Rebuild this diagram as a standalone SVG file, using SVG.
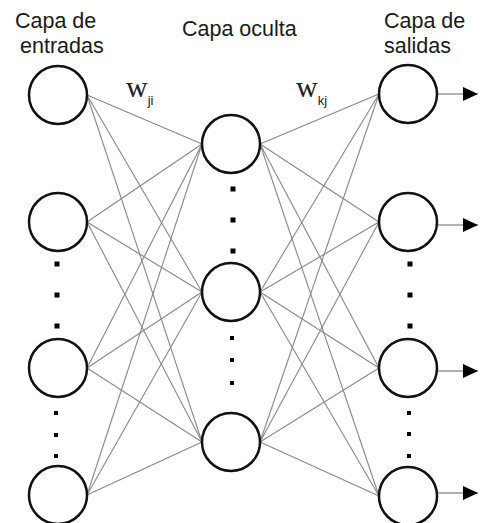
<svg xmlns="http://www.w3.org/2000/svg" width="480" height="523" viewBox="0 0 480 523">
  <defs>
    <style>
      .node { fill: #ffffff; stroke: #111111; stroke-width: 2.5; }
      .link { stroke: #888888; stroke-width: 1.1; fill: none; }
      .out { stroke: #999999; stroke-width: 1.5; fill: none; }
      .dot { fill: #000000; }
      .label { font-family: "Liberation Sans", Arial, sans-serif; font-size: 21.5px; fill: #1a1a1a; }
      .w { font-family: "Liberation Serif", "Times New Roman", serif; font-size: 30px; fill: #222222; }
      .sub { font-family: "Liberation Sans", Arial, sans-serif; font-size: 13px; }
    </style>
    <marker id="head" markerWidth="16" markerHeight="14" refX="15" refY="7" orient="auto" markerUnits="userSpaceOnUse">
      <path d="M0,0 L15,7 L0,14 Z" fill="#000000"/>
    </marker>
  </defs>

  <rect width="480" height="523" fill="#ffffff"/>

  <!-- layer titles -->
  <g id="titles">
    <text class="label" x="15" y="28">Capa de</text>
    <text class="label" x="20" y="53">entradas</text>
    <text class="label" x="182" y="36">Capa oculta</text>
    <text class="label" x="384" y="28">Capa de</text>
    <text class="label" x="384" y="53">salidas</text>
  </g>

  <!-- weight labels -->
  <g id="weights">
    <text class="w" x="126" y="97">w<tspan class="sub" dx="0" dy="8">ji</tspan></text>
    <text class="w" x="296" y="97">w<tspan class="sub" dx="0" dy="8">kj</tspan></text>
  </g>

  <!-- connections -->
  <g id="connectors">
    <!-- input -> hidden -->
    <line class="link" x1="87" y1="95" x2="202" y2="144"/>
    <line class="link" x1="87" y1="95" x2="202" y2="292"/>
    <line class="link" x1="87" y1="95" x2="202" y2="442"/>
    <line class="link" x1="87" y1="222" x2="202" y2="144"/>
    <line class="link" x1="87" y1="222" x2="202" y2="292"/>
    <line class="link" x1="87" y1="222" x2="202" y2="442"/>
    <line class="link" x1="87" y1="368" x2="202" y2="144"/>
    <line class="link" x1="87" y1="368" x2="202" y2="292"/>
    <line class="link" x1="87" y1="368" x2="202" y2="442"/>
    <line class="link" x1="87" y1="495" x2="202" y2="144"/>
    <line class="link" x1="87" y1="495" x2="202" y2="292"/>
    <line class="link" x1="87" y1="495" x2="202" y2="442"/>
    <!-- hidden -> output -->
    <line class="link" x1="260" y1="144" x2="379" y2="94"/>
    <line class="link" x1="260" y1="144" x2="379" y2="222"/>
    <line class="link" x1="260" y1="144" x2="379" y2="368"/>
    <line class="link" x1="260" y1="144" x2="379" y2="496"/>
    <line class="link" x1="260" y1="292" x2="379" y2="94"/>
    <line class="link" x1="260" y1="292" x2="379" y2="222"/>
    <line class="link" x1="260" y1="292" x2="379" y2="368"/>
    <line class="link" x1="260" y1="292" x2="379" y2="496"/>
    <line class="link" x1="260" y1="442" x2="379" y2="94"/>
    <line class="link" x1="260" y1="442" x2="379" y2="222"/>
    <line class="link" x1="260" y1="442" x2="379" y2="368"/>
    <line class="link" x1="260" y1="442" x2="379" y2="496"/>
    <!-- outputs -->
    <line class="out" x1="437" y1="94" x2="478" y2="94" marker-end="url(#head)"/>
    <line class="out" x1="437" y1="225" x2="478" y2="225" marker-end="url(#head)"/>
    <line class="out" x1="437" y1="371" x2="478" y2="371" marker-end="url(#head)"/>
    <line class="out" x1="437" y1="493" x2="478" y2="493" marker-end="url(#head)"/>
  </g>

  <!-- input layer -->
  <g id="input-1"><circle class="node" cx="58" cy="95" r="29"/></g>
  <g id="input-2"><circle class="node" cx="58" cy="222" r="29"/></g>
  <g id="input-3"><circle class="node" cx="58" cy="368" r="29"/></g>
  <g id="input-4"><circle class="node" cx="58" cy="495" r="29"/></g>
  <g id="input-ellipsis">
    <rect class="dot" x="54.5" y="261.5" width="5" height="5"/>
    <rect class="dot" x="54.5" y="292.5" width="5" height="5"/>
    <rect class="dot" x="54.5" y="323.5" width="5" height="5"/>
    <rect class="dot" x="54" y="411" width="4" height="4"/>
    <rect class="dot" x="54" y="433" width="4" height="4"/>
    <rect class="dot" x="54" y="454" width="4" height="4"/>
  </g>

  <!-- hidden layer -->
  <g id="hidden-1"><circle class="node" cx="231" cy="144" r="29"/></g>
  <g id="hidden-2"><circle class="node" cx="231" cy="292" r="29"/></g>
  <g id="hidden-3"><circle class="node" cx="231" cy="442" r="29"/></g>
  <g id="hidden-ellipsis">
    <rect class="dot" x="230.5" y="186.5" width="5" height="5"/>
    <rect class="dot" x="230.5" y="217.5" width="5" height="5"/>
    <rect class="dot" x="230.5" y="248.5" width="5" height="5"/>
    <rect class="dot" x="230" y="336" width="4" height="4"/>
    <rect class="dot" x="230" y="358" width="4" height="4"/>
    <rect class="dot" x="230" y="381" width="4" height="4"/>
  </g>

  <!-- output layer -->
  <g id="output-1"><circle class="node" cx="408" cy="94" r="29"/></g>
  <g id="output-2"><circle class="node" cx="408" cy="222" r="29"/></g>
  <g id="output-3"><circle class="node" cx="408" cy="368" r="29"/></g>
  <g id="output-4"><circle class="node" cx="408" cy="496" r="29"/></g>
  <g id="output-ellipsis">
    <rect class="dot" x="407.5" y="261.5" width="5" height="5"/>
    <rect class="dot" x="407.5" y="292.5" width="5" height="5"/>
    <rect class="dot" x="407.5" y="323.5" width="5" height="5"/>
    <rect class="dot" x="407" y="411" width="4" height="4"/>
    <rect class="dot" x="407" y="432" width="4" height="4"/>
    <rect class="dot" x="407" y="454" width="4" height="4"/>
  </g>
</svg>
